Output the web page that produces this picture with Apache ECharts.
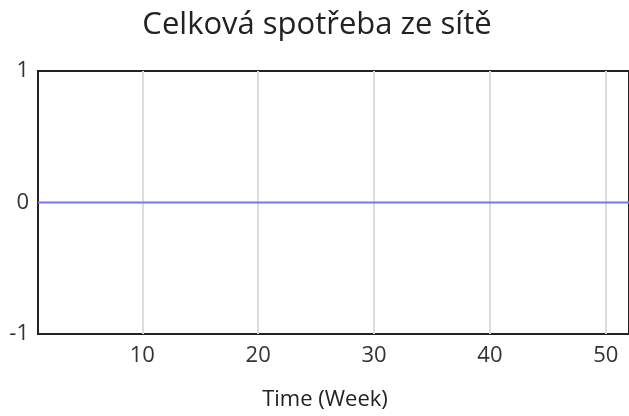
<!DOCTYPE html>
<html>
<head>
<meta charset="utf-8">
<style>html,body{margin:0;padding:0;background:#fff;}#c{width:629px;height:416px;}</style>
<script src="https://cdn.jsdelivr.net/npm/echarts@6/dist/echarts.min.js"></script>
</head>
<body>
<div id="c"></div>
<script>
const titleText = "Celková spotřeba ze sítě";
const xAxisName = "Time (Week)";
const weeks = [1,2,3,4,5,6,7,8,9,10,11,12,13,14,15,16,17,18,19,20,21,22,23,24,25,26,27,28,29,30,31,32,33,34,35,36,37,38,39,40,41,42,43,44,45,46,47,48,49,50,51,52];
const values = [0,0,0,0,0,0,0,0,0,0,0,0,0,0,0,0,0,0,0,0,0,0,0,0,0,0,0,0,0,0,0,0,0,0,0,0,0,0,0,0,0,0,0,0,0,0,0,0,0,0,0,0];
const xTicks = [10,20,30,40,50];
const yTicks = [-1,0,1];

const chart = echarts.init(document.getElementById('c'), null, {renderer:'canvas'});
const font = '"Open Sans", "Noto Sans", sans-serif';
chart.setOption({
  animation:false,
  backgroundColor:'#fff',
  title:[
    {text:titleText, left:312, top:5, textAlign:'center',
     textStyle:{fontFamily:font, fontSize:31, fontWeight:'normal', color:'#222'}},
    {text:xAxisName, left:320, top:384, textAlign:'center',
     textStyle:{fontFamily:font, fontSize:22, fontWeight:'normal', color:'#222'}}
  ],
  grid:{left:38, top:71, right:-2, bottom:82, show:true, borderColor:'#222', borderWidth:2, backgroundColor:'transparent'},
  xAxis:{
    type:'value', min:1, max:52,
    axisLine:{show:false}, axisTick:{show:false, customValues:xTicks},
    axisLabel:{customValues:xTicks, fontFamily:font, fontSize:22, color:'#333', margin:11},
    splitLine:{show:true, lineStyle:{color:'#dcdcdc', width:2}}
  },
  yAxis:{
    type:'value', min:-1, max:1, interval:1,
    axisLine:{show:false}, axisTick:{show:false},
    axisLabel:{fontFamily:font, fontSize:22, color:'#333', margin:9},
    splitLine:{show:false}
  },
  series:[{
    type:'line', data:weeks.map((w,i)=>[w, values[i]]),
    showSymbol:false, lineStyle:{color:'#7777ee', width:2}, z:1
  }]
});
</script>
</body>
</html>
